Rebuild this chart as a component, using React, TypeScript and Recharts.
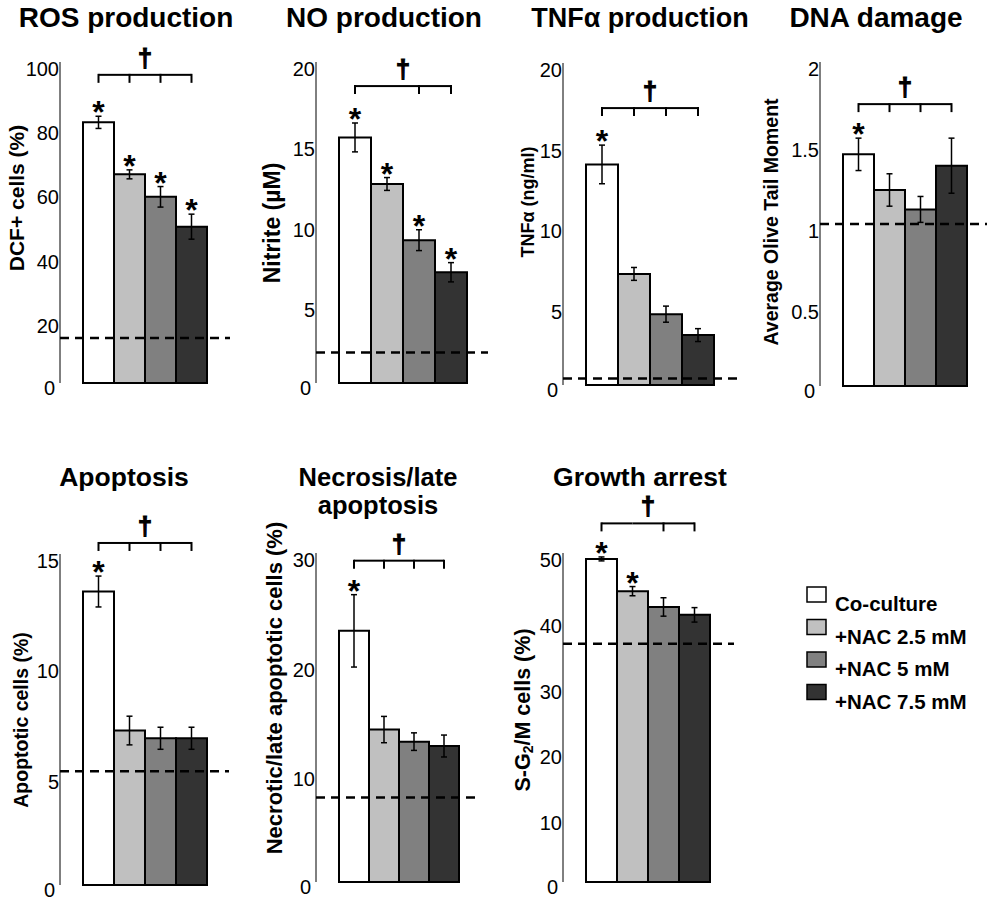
import React from "react";
import { BarChart, Bar, XAxis, YAxis, ErrorBar, ReferenceLine } from "recharts";

// groups (legend order)
const SERIES = ["Co-culture", "+NAC 2.5 mM", "+NAC 5 mM", "+NAC 7.5 mM"];
const FILLS = ["#ffffff", "#c0c0c0", "#808080", "#333333"];

// values: mean, error, control (dashed) level, bracket level
const ROS_MEAN = [81.2, 65, 58, 48.7];
const ROS_ERR = [1.9, 1.4, 3.2, 3.9];
const NO_MEAN = [15.3, 12.4, 8.9, 6.9];
const NO_ERR = [0.9, 0.4, 0.65, 0.6];
const TNF_MEAN = [13.7, 6.9, 4.4, 3.1];
const TNF_ERR = [1.2, 0.4, 0.5, 0.4];
const DNA_MEAN = [1.43, 1.21, 1.09, 1.36];
const DNA_ERR = [0.1, 0.1, 0.08, 0.17];
const APOP_MEAN = [13.3, 7.0, 6.65, 6.65];
const APOP_ERR = [0.7, 0.65, 0.5, 0.5];
const NECR_MEAN = [22.9, 13.9, 12.8, 12.4];
const NECR_ERR = [3.3, 1.2, 0.8, 1.0];
const GROW_MEAN = [49.1, 44.2, 41.8, 40.6];
const GROW_ERR = [0.3, 0.7, 1.4, 1.1];

const CONTROL = [14, 1.9, 0.4, 1.0, 5.15, 7.7, 36.2];
const BRACKET = [96, 18.5, 17.2, 1.74, 15.5, 29.3, 54.5];

// significance marks per bar
const STARS = [
  [1, 1, 1, 1],
  [1, 1, 1, 1],
  [1, 0, 0, 0],
  [1, 0, 0, 0],
  [1, 0, 0, 0],
  [1, 0, 0, 0],
  [1, 1, 0, 0],
];
const BRACKET_TICKS = [
  [1, 1, 1, 1],
  [1, 0, 1, 1],
  [1, 1, 1, 1],
  [1, 1, 1, 1],
  [1, 1, 1, 1],
  [1, 1, 1, 1],
  [1, 0, 1, 1],
];

const TITLES = [
  ["ROS production"],
  ["NO production"],
  ["TNF\u03b1 production"],
  ["DNA damage"],
  ["Apoptosis"],
  ["Necrosis/late", "apoptosis"],
  ["Growth arrest"],
];
const Y_LABELS = [
  "DCF+ cells (%)",
  "Nitrite (\u00b5M)",
  "TNF\u03b1 (ng/ml)",
  "Average Olive Tail Moment",
  "Apoptotic cells (%)",
  "Necrotic/late apoptotic cells (%)",
  "SG2M",
];
const Y_TICKS = [
  [0, 20, 40, 60, 80, 100],
  [0, 5, 10, 15, 20],
  [0, 5, 10, 15, 20],
  [0, 0.5, 1, 1.5, 2],
  [0, 5, 10, 15],
  [0, 10, 20, 30],
  [0, 10, 20, 30, 40, 50],
];

const MEANS = [ROS_MEAN, NO_MEAN, TNF_MEAN, DNA_MEAN, APOP_MEAN, NECR_MEAN, GROW_MEAN];
const ERRS = [ROS_ERR, NO_ERR, TNF_ERR, DNA_ERR, APOP_ERR, NECR_ERR, GROW_ERR];

// page layout: y-axis x, plot right, plot top/bottom (page px), title centre, label placement
const LAYOUT = [
  { ax: 60, right: 230, top: 62, bottom: 383, rowTop: 0, rowH: 430, tx: 126, ty: 4, tfs: 28, ldx: 44, lcy: 198, lfs: 21 },
  { ax: 316, right: 488, top: 62, bottom: 383, rowTop: 0, rowH: 430, tx: 384, ty: 4, tfs: 28, ldx: 44, lcy: 223, lfs: 23 },
  { ax: 563, right: 737, top: 63, bottom: 385, rowTop: 0, rowH: 430, tx: 640, ty: 4, tfs: 27, ldx: 35, lcy: 202, lfs: 18 },
  { ax: 820, right: 990, top: 62, bottom: 386, rowTop: 0, rowH: 430, tx: 876, ty: 4, tfs: 28, ldx: 49, lcy: 222, lfs: 19.5 },
  { ax: 60, right: 229, top: 554, bottom: 885, rowTop: 440, rowH: 460, tx: 124, ty: 463, tfs: 26.5, ldx: 39, lcy: 720, lfs: 19.5 },
  { ax: 316, right: 481, top: 553, bottom: 882, rowTop: 440, rowH: 460, tx: 378, ty: 463, tfs: 25.5, ldx: 42, lcy: 688, lfs: 22 },
  { ax: 563, right: 734, top: 553, bottom: 882, rowTop: 440, rowH: 460, tx: 640, ty: 463, tfs: 26.5, ldx: 40, lcy: 710, lfs: 21.5 },
];

const FONT = '"Liberation Sans", Arial, sans-serif';

function YTick(props: any) {
  const { x, y, payload } = props;
  const zero = payload.value === 0;
  return (
    <text
      x={x - (zero ? 5 : 1)}
      y={y + (zero ? 12 : 14)}
      textAnchor="end"
      fontSize={20}
      fontFamily={FONT}
      fill="#000"
    >
      {payload.value}
    </text>
  );
}

function yLabelText(i: number) {
  if (Y_LABELS[i] === "SG2M") {
    return (
      <>
        S-G<tspan dy={5} fontSize="0.65em">2</tspan>
        <tspan dy={-5}>/M cells (%)</tspan>
      </>
    );
  }
  return Y_LABELS[i];
}

function marksFor(pi: number, si: number) {
  return (p: any) => {
    const vb = p.viewBox || {};
    const x = Number(p.x ?? vb.x);
    const y = Number(p.y ?? vb.y);
    const width = Number(p.width ?? vb.width);
    const height = Number(p.height ?? vb.height);
    const value = MEANS[pi][si];
    const ppu = height / value;
    const base = y + height;
    const cx = x + width / 2;
    const errTop = base - (value + ERRS[pi][si]) * ppu;
    const by = base - BRACKET[pi] * ppu;
    return (
      <g key={`m-${pi}-${si}`}>
        {STARS[pi][si] ? (
          <text x={cx} y={errTop + 7} textAnchor="middle" fontSize={32} fontWeight="bold" fontFamily={FONT} fill="#000">
            *
          </text>
        ) : null}
        {si < 3 ? <line x1={cx} y1={by} x2={cx + width} y2={by} stroke="#000" strokeWidth={2} /> : null}
        {BRACKET_TICKS[pi][si] ? <line x1={cx} y1={by - 1} x2={cx} y2={by + 8} stroke="#000" strokeWidth={2} /> : null}
        {si === 1 ? (
          <text
            x={x + width}
            y={by - 8}
            textAnchor="middle"
            fontSize={26}
            fontWeight="bold"
            fontFamily={FONT}
            fill="#000"
            stroke="#000"
            strokeWidth={1}
          >
            {"\u2020"}
          </text>
        ) : null}
      </g>
    );
  };
}

function Panel({ i }: { i: number }) {
  const L = LAYOUT[i];
  const row: Record<string, number | string> = { name: "" };
  MEANS[i].forEach((v, k) => {
    row[`s${k}`] = v;
    row[`e${k}`] = ERRS[i][k];
  });
  const yW = 60;
  const chartW = yW + (L.right - L.ax) + 4;
  const ticks = Y_TICKS[i];
  return (
    <div style={{ position: "absolute", left: L.ax - yW, top: L.rowTop }}>
      <BarChart
        width={chartW}
        height={L.rowH}
        data={[row]}
        margin={{ top: L.top - L.rowTop, bottom: L.rowTop + L.rowH - L.bottom, left: 0, right: 4 }}
        barGap={0}
        barCategoryGap={23}
      >
        <XAxis dataKey="name" height={0} tick={false} tickLine={false} axisLine={{ stroke: "#000", strokeWidth: 1 }} />
        <YAxis
          width={yW}
          domain={[ticks[0], ticks[ticks.length - 1]]}
          ticks={ticks}
          interval={0}
          tickLine={false}
          tickSize={0}
          tickMargin={0}
          axisLine={{ stroke: "#000", strokeWidth: 1 }}
          tick={<YTick />}
          label={{
            content: (lp: any) => {
              const vb = lp.viewBox || {};
              const axisX = Number(vb.x) + Number(vb.width);
              const lx = axisX - L.ldx;
              const ly = L.lcy - L.rowTop;
              return (
                <text
                  transform={`translate(${lx},${ly}) rotate(-90)`}
                  textAnchor="middle"
                  dominantBaseline="central"
                  fontSize={L.lfs}
                  fontWeight="bold"
                  fontFamily={FONT}
                  fill="#000"
                >
                  {yLabelText(i)}
                </text>
              );
            },
          }}
        />
        {SERIES.map((name, k) => (
          <Bar
            key={name}
            dataKey={`s${k}`}
            name={name}
            fill={FILLS[k]}
            stroke="#000"
            strokeWidth={2}
            isAnimationActive={false}
            label={marksFor(i, k)}
          >
            <ErrorBar dataKey={`e${k}`} width={3} stroke="#000" strokeWidth={1.5} isAnimationActive={false} />
          </Bar>
        ))}
        <ReferenceLine y={CONTROL[i]} stroke="#000" strokeWidth={2.5} strokeDasharray="9 6" />
      </BarChart>
      <div
        style={{
          position: "absolute",
          left: L.tx - (L.ax - yW) - 150,
          top: L.ty - L.rowTop,
          width: 300,
          textAlign: "center",
          fontFamily: FONT,
          fontWeight: "bold",
          fontSize: L.tfs,
          lineHeight: "28px",
        }}
      >
        {TITLES[i].map((t) => (
          <div key={t}>{t}</div>
        ))}
      </div>
    </div>
  );
}

function LegendBox() {
  return (
    <svg width={190} height={140} style={{ position: "absolute", left: 800, top: 580 }}>
      {SERIES.map((name, k) => (
        <g key={name} transform={`translate(0, ${k * 32.5})`}>
          <rect x={7} y={7} width={19} height={15} fill={FILLS[k]} stroke="#000" strokeWidth={1.5} />
          <text x={35} y={31} fontSize={20.5} fontWeight="bold" fontFamily={FONT} fill="#000">
            {name}
          </text>
        </g>
      ))}
    </svg>
  );
}

export default function App() {
  return (
    <div style={{ position: "absolute", left: 0, top: 0, width: 987, height: 900, background: "#fff", overflow: "hidden" }}>
      {LAYOUT.map((_, i) => (
        <Panel key={i} i={i} />
      ))}
      <LegendBox />
    </div>
  );
}
